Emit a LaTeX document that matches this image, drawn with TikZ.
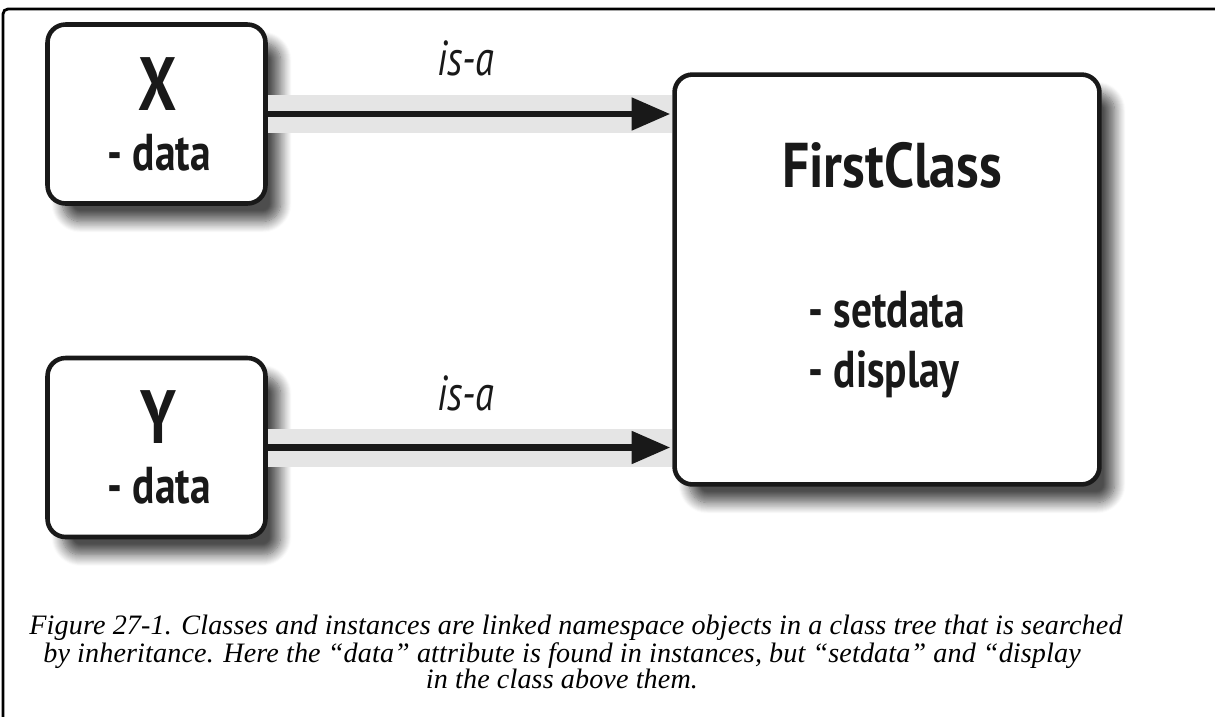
\documentclass[tikz,border=0pt]{standalone}
\usepackage{fontspec}
\setmainfont{Liberation Serif}
\newfontfamily\condfont[FakeStretch=0.8]{PT Sans}
\newfontfamily\titlefont[FakeStretch=0.85]{PT Sans}
\newfontfamily\isafont[FakeStretch=0.78]{PT Sans}
\newfontfamily\capfont[LetterSpace=0.5]{Liberation Serif}
\usetikzlibrary{arrows.meta,calc,shadows.blur}
\begin{document}
\begin{tikzpicture}[x=0.02cm,y=-0.02cm,
  classbox/.style={draw=black!90, line width=2.6pt, rounded corners=0.36cm, fill=white, inner sep=0pt,
    blur shadow={shadow xshift=0.3cm, shadow yshift=-0.36cm, shadow blur radius=0.22cm, shadow blur steps=12, shadow opacity=70}},
  band/.style={fill=black!10},
  link/.style={draw=black!90, line width=3.6pt, -{Triangle[length=22pt,width=18pt]}},
  bigname/.style={font=\condfont\bfseries\fontsize{43}{43}\selectfont, text=black!90, inner sep=0pt, anchor=base},
  member/.style={font=\condfont\bfseries\fontsize{29.5}{29.5}\selectfont, text=black!90, inner sep=0pt},
  classname/.style={font=\titlefont\bfseries\fontsize{36}{36}\selectfont, text=black!90, inner sep=0pt, anchor=base},
  isalabel/.style={font=\isafont\itshape\fontsize{28}{28}\selectfont, text=black!90, inner sep=0pt, anchor=base},
  caption/.style={font=\capfont\itshape\fontsize{16}{18}\selectfont, inner sep=0pt}
]
\useasboundingbox (0,0) rectangle (1215,717);
% outer frame
\draw[line width=1.6pt, rounded corners=0.1cm] (3,9) rectangle (1240,740);

% boxes
\node[classbox, minimum width=4.36cm, minimum height=3.58cm] (x) at (156.5,114) {};
\node[classbox, minimum width=4.36cm, minimum height=3.58cm] (y) at (156.5,447.5) {};
\node[classbox, minimum width=8.5cm, minimum height=8.2cm] (fc) at (887,279.5) {};

% bands and arrows
\fill[band] ($(x.east)+(0,-19)$) rectangle ($(x.east -| fc.west)+(0,19)$);
\fill[band] ($(y.east)+(0,-19)$) rectangle ($(y.east -| fc.west)+(0,19)$);
\draw[link] (x.east) -- ($(x.east -| fc.west)+(-2,0)$);
\draw[link] (y.east) -- ($(y.east -| fc.west)+(-2,0)$);

% texts
\node[bigname] (xn) at (158,110) {X};
\node[member, anchor=base] (xd) at (159,170) {- data};
\node[bigname] (yn) at (158,443) {Y};
\node[member, anchor=base] (yd) at (159,503) {- data};
\node[classname] (fcn) at (892,187) {FirstClass};
\node[member, anchor=base west] (fcs) at (808,327) {- setdata};
\node[member, anchor=base west] (fcd) at (808,387) {- display};
\node[isalabel] (isa1) at (466,75) {is-a};
\node[isalabel] (isa2) at (466,410) {is-a};

% caption
\node[caption, anchor=base] (c1) at (576,634) {Figure 27-1. Classes and instances are linked namespace objects in a class tree that is searched};
\node[caption, anchor=base west] (c2) at (43,662) {by inheritance. Here the “data” attribute is found in instances, but “setdata” and “display};
\node[caption, anchor=base] (c3) at (562,688) {in the class above them.};
\end{tikzpicture}
\end{document}
